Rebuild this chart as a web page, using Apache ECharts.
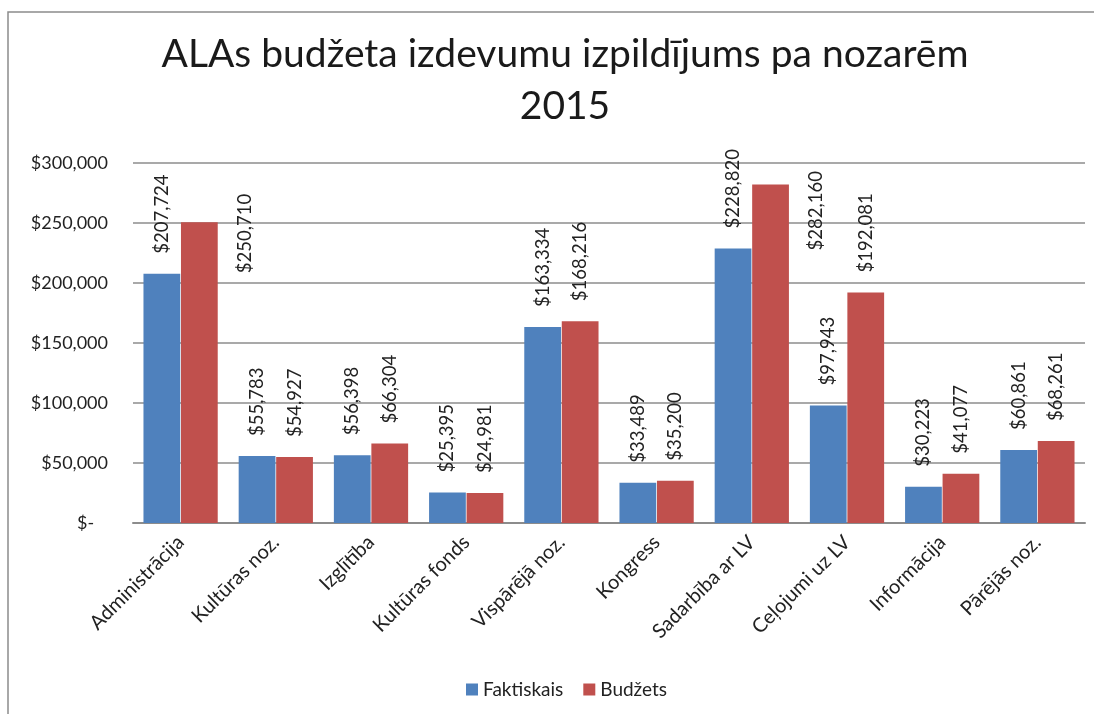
<!DOCTYPE html>
<html>
<head>
<meta charset="utf-8">
<script src="https://cdn.jsdelivr.net/npm/echarts@6/dist/echarts.min.js"></script>
<style>
  html, body { margin: 0; padding: 0; background: #fff; }
  #chart { width: 1094px; height: 714px; }
</style>
</head>
<body>
<div id="chart"></div>
<script>
const categories = ['Administrācija', 'Kultūras noz.', 'Izglītība', 'Kultūras fonds', 'Vispārējā noz.',
  'Kongress', 'Sadarbība ar LV', 'Ceļojumi uz LV', 'Informācija', 'Pārējās noz.'];
const faktiskais = [207724, 55783, 56398, 25395, 163334, 33489, 228820, 97943, 30223, 60861];
const budzets = [250710, 54927, 66304, 24981, 168216, 35200, 282160, 192081, 41077, 68261];

const font = 'Lato';
const money = v => '$' + v.toLocaleString('en-US');

// Excel pushed these two labels off to the right of their bars
// (offset is in the rotated label frame: [-down, right])
const shiftedLabels = { 0: [-71, 46], 6: [-86, 45] };
const budzetsData = budzets.map((v, i) =>
  shiftedLabels[i] ? { value: v, label: { offset: shiftedLabels[i] } } : v);

const chart = echarts.init(document.getElementById('chart'));
chart.setOption({
  backgroundColor: '#fff',
  animation: false,
  textStyle: { fontFamily: font },
  graphic: [{
    type: 'rect', z: -10,
    shape: { x: 8, y: 12, width: 1200, height: 800 },
    style: { fill: 'none', stroke: '#8c8c8c', lineWidth: 1.5 }
  }],
  title: {
    text: 'ALAs budžeta izdevumu izpildījums pa nozarēm\n2015',
    left: 560, top: 23, textAlign: 'center',
    textStyle: { fontFamily: font, fontSize: 39, fontWeight: 'normal', color: '#1a1a1a', lineHeight: 52 }
  },
  legend: {
    left: 461, top: 675,
    itemWidth: 12, itemHeight: 12, itemGap: 20,
    icon: 'rect',
    textStyle: { fontFamily: font, fontSize: 19, color: '#222' },
    data: ['Faktiskais', 'Budžets']
  },
  grid: { left: 133, right: 9, top: 163, bottom: 191, outerBoundsMode: 'none' },
  xAxis: {
    type: 'category',
    data: categories,
    axisTick: { show: false },
    axisLine: { lineStyle: { color: '#8c8c8c', width: 2 } },
    axisLabel: { rotate: 45, interval: 0, margin: 16, fontFamily: font, fontSize: 20, color: '#222' }
  },
  yAxis: {
    type: 'value',
    min: 0, max: 300000, interval: 50000,
    axisLine: { show: false },
    axisTick: { show: false },
    splitLine: { lineStyle: { color: '#8c8c8c', width: 1.5 } },
    axisLabel: {
      margin: 25, fontFamily: font, fontSize: 18, color: '#222',
      formatter: v => v === 0 ? '$-   ' : money(v)
    }
  },
  series: [
    {
      name: 'Faktiskais', type: 'bar', data: faktiskais,
      itemStyle: { color: '#4F81BD' },
      barGap: '2%', barCategoryGap: '22%',
      label: {
        show: true, position: 'top', distance: 20, rotate: 90, align: 'left', verticalAlign: 'middle',
        fontFamily: font, fontSize: 18.5, color: '#222', formatter: p => money(p.value)
      }
    },
    {
      name: 'Budžets', type: 'bar', data: budzetsData,
      itemStyle: { color: '#C0504D' },
      barGap: '2%', barCategoryGap: '22%',
      label: {
        show: true, position: 'top', distance: 20, rotate: 90, align: 'left', verticalAlign: 'middle',
        fontFamily: font, fontSize: 18.5, color: '#222', formatter: p => money(p.value)
      }
    }
  ]
});
</script>
</body>
</html>
